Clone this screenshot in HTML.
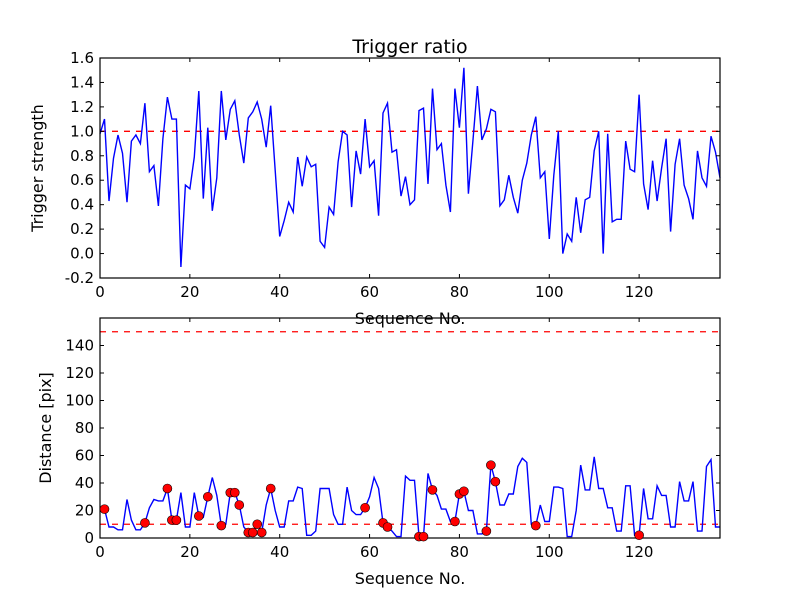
<!DOCTYPE html>
<html><head><meta charset="utf-8"><style>
body{margin:0;background:#fff;font-family:"Liberation Sans","DejaVu Sans",sans-serif}
svg text{font-family:"DejaVu Sans","Liberation Sans",sans-serif}
</style></head><body>
<svg id="c" width="800" height="600" xmlns="http://www.w3.org/2000/svg">
<rect width="800" height="600" fill="#fff"/>
</svg>
<script>
const ratio=[0.98,1.1,0.43,0.78,0.97,0.82,0.42,0.92,0.97,0.9,1.23,0.67,0.72,0.39,0.94,1.28,1.1,1.1,-0.11,0.56,0.53,0.79,1.33,0.45,1.03,0.35,0.62,1.33,0.93,1.18,1.25,0.97,0.74,1.11,1.16,1.24,1.1,0.87,1.21,0.68,0.14,0.27,0.42,0.34,0.79,0.55,0.79,0.71,0.73,0.1,0.05,0.38,0.32,0.75,1.0,0.97,0.38,0.84,0.65,1.1,0.71,0.76,0.31,1.15,1.23,0.83,0.85,0.47,0.63,0.4,0.44,1.17,1.19,0.57,1.35,0.85,0.9,0.56,0.34,1.35,1.03,1.52,0.49,0.92,1.37,0.93,1.02,1.18,1.16,0.39,0.44,0.64,0.46,0.33,0.6,0.74,0.97,1.12,0.62,0.67,0.12,0.64,1.0,0.0,0.16,0.1,0.46,0.17,0.44,0.46,0.84,1.0,0.0,0.98,0.26,0.28,0.28,0.92,0.69,0.67,1.3,0.57,0.36,0.76,0.43,0.7,0.94,0.18,0.73,0.94,0.56,0.45,0.28,0.84,0.62,0.55,0.96,0.83,0.62];
const dist=[20,21,8,8,6,6,28,13,6,6,11,22,28,27,27,36,13,13,33,8,8,33,16,15,30,44,31,9,10,33,33,24,8,4,4,10,4,24,36,20,8,8,27,27,37,36,2,2,5,36,36,36,17,10,10,37,20,17,17,22,30,44,36,11,8,5,1,1,45,42,42,1,1,47,35,31,21,21,12,12,32,34,20,20,3,3,5,53,41,24,24,32,32,52,58,55,10,9,24,12,12,37,37,36,1,1,20,53,35,35,59,36,36,22,22,5,5,38,38,2,2,36,14,14,38,31,31,8,8,41,27,27,41,5,5,52,57,8,8];
const markIdx=[1,10,15,16,17,22,24,27,29,30,31,33,34,35,36,38,59,63,64,71,72,74,79,80,81,86,87,88,97,120];
const xTicks=[0,20,40,60,80,100,120];
const yTicksTop=[-0.2,0.0,0.2,0.4,0.6,0.8,1.0,1.2,1.4,1.6];
const yTicksBot=[0,20,40,60,80,100,120,140];
const threshTop=[1.0];
const threshBot=[10,150];
const NS='http://www.w3.org/2000/svg';
const svg=document.getElementById('c');
function mk(t,a,p){const e=document.createElementNS(NS,t);for(const k in a)e.setAttribute(k,a[k]);(p||svg).appendChild(e);return e;}
const X0=100,X1=720,XMAX=138;
const sx=v=>X0+(v/XMAX)*(X1-X0);
function panel(name,T,B,ymin,ymax,ticks,fmt,data,thr,ylabel,ylx){
  const sy=v=>B-(v-ymin)/(ymax-ymin)*(B-T);
  const g=mk('g',{});
  
  
  thr.forEach(t=>{const l=mk('line',{x1:X0,x2:X1,y1:sy(t),y2:sy(t),stroke:'#f00','stroke-width':1.3,'stroke-dasharray':'6,6'},g);
    });
  const pts=data.map((v,i)=>sx(i).toFixed(1)+','+sy(v).toFixed(1)).join(' ');
  const pl=mk('polyline',{points:pts,fill:'none',stroke:'#00f','stroke-width':1.4},g);
  
  mk('rect',{x:X0,y:T,width:X1-X0,height:B-T,fill:'none',stroke:'#000','stroke-width':1.2},g);
  xTicks.forEach(t=>{const x=sx(t);
    mk('line',{x1:x,x2:x,y1:B,y2:B-4,stroke:'#000'},g);mk('line',{x1:x,x2:x,y1:T,y2:T+4,stroke:'#000'},g);
    const tx=mk('text',{x:x,y:B+19,'text-anchor':'middle',style:'font-size:15px'},g);tx.textContent=t;
    });
  ticks.forEach(t=>{const y=sy(t);
    mk('line',{x1:X0,x2:X0+4,y1:y,y2:y,stroke:'#000'},g);mk('line',{x1:X1,x2:X1-4,y1:y,y2:y,stroke:'#000'},g);
    const tx=mk('text',{x:X0-6,y:y+5,'text-anchor':'end',style:'font-size:15px'},g);tx.textContent=fmt(t);
    });
  const xl=mk('text',{x:(X0+X1)/2,y:B+46,'text-anchor':'middle',style:'font-size:16px'},g);xl.textContent='Sequence No.';
  
  const yl=mk('text',{x:ylx,y:(T+B)/2,'text-anchor':'middle',style:'font-size:16px',transform:`rotate(-90 ${ylx} ${(T+B)/2})`},g);yl.textContent=ylabel;
  
  return {g,sy};
}
panel('trigger-ratio-panel',58,278,-0.2,1.6,yTicksTop,v=>v.toFixed(1),ratio,threshTop,'Trigger strength',43);
const bot=panel('distance-panel',318,538,0,160,yTicksBot,v=>String(v),dist,threshBot,'Distance [pix]',51);
markIdx.forEach(i=>{const c=mk('circle',{cx:sx(i),cy:bot.sy(dist[i]),r:4.5,fill:'#f00',stroke:'#000','stroke-width':0.6},bot.g);
  
  });
const title=mk('text',{x:410,y:53,'text-anchor':'middle',style:'font-size:19px'});
title.textContent='Trigger ratio';


</script>
</body></html>
